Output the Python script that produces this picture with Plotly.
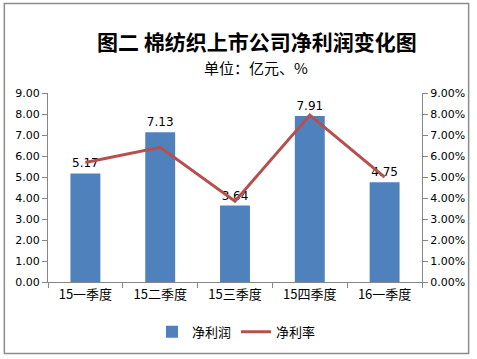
import plotly.graph_objects as go

categories = ["15一季度", "15二季度", "15三季度", "15四季度", "16一季度"]
net_profit = [5.17, 7.13, 3.64, 7.91, 4.75]
net_margin = [0.0569, 0.0641, 0.0385, 0.0795, 0.0499]
left_ticks = [0, 1, 2, 3, 4, 5, 6, 7, 8, 9]
right_ticks = [0, 0.01, 0.02, 0.03, 0.04, 0.05, 0.06, 0.07, 0.08, 0.09]

W, H = 477, 359
L, R, T, B = 48, 425, 93, 283

def px(x):
    return (x - L) / (R - L)

def py(y):
    return (B - y) / (B - T)

cjk = "Noto Sans CJK SC"
num = "DejaVu Sans"

fig = go.Figure()
fig.add_trace(go.Bar(
    x=categories, y=net_profit, name="净利润",
    marker=dict(color="#4F81BD", line=dict(width=0)),
    text=[f"{v:.2f}" for v in net_profit], textposition="outside",
    textfont=dict(family=num, size=12, color="#000000"),
    cliponaxis=False,
))
fig.add_trace(go.Scatter(
    x=categories, y=net_margin, name="净利率", yaxis="y2",
    mode="lines", line=dict(color="#B5504E", width=3),
))

fig.update_layout(
    width=W, height=H,
    margin=dict(l=L, r=W - R, t=T, b=H - B),
    paper_bgcolor="white", plot_bgcolor="white",
    bargap=0.6,
    showlegend=True,
    legend=dict(orientation="h", x=px(238), xanchor="center", y=py(333), yanchor="middle",
                font=dict(family=cjk, size=13, color="#000000"), traceorder="normal",
                itemwidth=30),
    xaxis=dict(type="category", showline=True, linecolor="#868686", linewidth=1,
               ticks="outside", tickson="boundaries", ticklen=5, tickcolor="#868686",
               tickfont=dict(family=cjk, size=13, color="#000000"), showgrid=False),
    yaxis=dict(range=[0, 9], tickvals=left_ticks, tickformat=".2f", showline=True,
               linecolor="#868686", linewidth=1, ticks="outside", ticklen=5,
               tickcolor="#868686", showgrid=False, zeroline=False,
               tickfont=dict(family=num, size=11, color="#000000")),
    yaxis2=dict(range=[0, 0.09], tickvals=right_ticks, tickformat=".2%", overlaying="y",
                side="right", showline=True, linecolor="#868686", linewidth=1,
                ticks="outside", ticklen=5, tickcolor="#868686", showgrid=False,
                zeroline=False, tickfont=dict(family=num, size=11, color="#000000")),
    annotations=[
        dict(text="<b>图二 棉纺织上市公司净利润变化图</b>", xref="paper", yref="paper",
             x=px(259), y=py(41), xanchor="center", yanchor="middle", showarrow=False,
             font=dict(family=cjk, size=21, color="#000000")),
        dict(text="单位：亿元、%", xref="paper", yref="paper",
             x=px(258), y=py(67), xanchor="center", yanchor="middle", showarrow=False,
             font=dict(family=cjk, size=15, color="#000000")),
    ],
    shapes=[dict(type="rect", xref="paper", yref="paper",
                 x0=px(4), x1=px(472), y0=py(355), y1=py(3),
                 line=dict(color="#8C8C8C", width=1.5), fillcolor="rgba(0,0,0,0)")],
)

fig.write_html("out.html", config={"displayModeBar": False},
               post_script="document.body.style.margin='0';document.body.style.overflow='hidden';")
